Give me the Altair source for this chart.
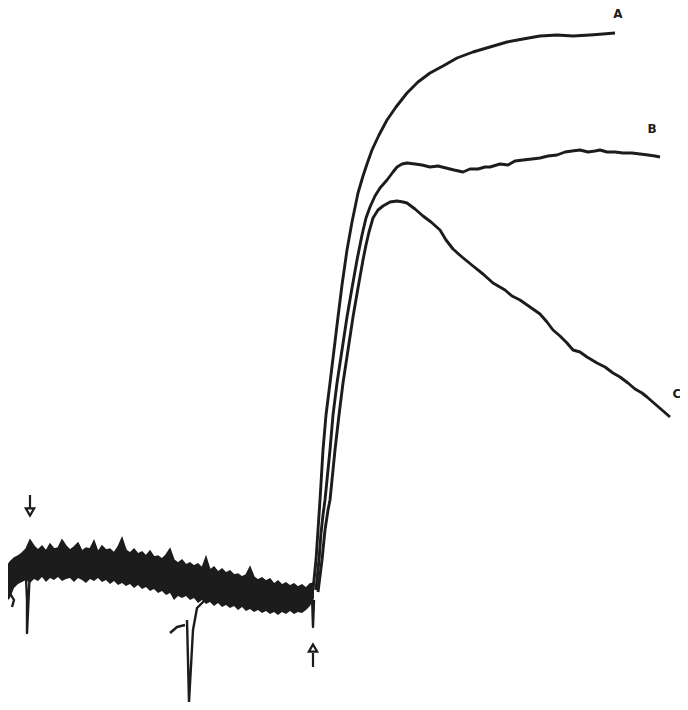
import altair as alt
import pandas as pd

# ---- traces (image pixel coordinates, y downward) ----
A_x = [313, 316, 318, 320, 323, 326, 330, 334, 338, 342, 347, 352, 358, 363, 367, 372, 379, 387, 396, 407,
       418, 430, 443, 457, 473, 490, 507, 523, 540, 557, 573, 590, 603, 615]
A_y = [590, 560, 530, 500, 450, 415, 383, 350, 317, 285, 250, 222, 193, 176, 164, 150, 135, 120, 107, 93,
       82, 73, 66, 58, 52, 47, 42, 39, 36, 35, 36, 35, 34, 33]

B_x = [316, 319, 321, 323, 325, 328, 330, 333, 337, 342, 347, 352, 357, 362, 366, 370, 375, 380, 387, 393,
       397, 402, 407, 415, 422, 430, 438, 446, 454, 463, 470, 478, 485, 490, 500, 508, 515, 523, 532, 540,
       548, 557, 565, 572, 580, 588, 595, 600, 607, 615, 623, 632, 640, 648, 655, 660]
B_y = [590, 560, 533, 515, 500, 470, 450, 415, 383, 350, 317, 288, 260, 235, 218, 207, 196, 188, 180, 172,
       167, 164, 163, 164, 165, 167, 166, 168, 170, 172, 169, 169, 167, 167, 164, 165, 161, 160, 159, 158,
       156, 155, 152, 151, 150, 152, 151, 150, 152, 152, 153, 153, 154, 155, 156, 157]

C_x = [318, 322, 325, 328, 330, 333, 335, 339, 343, 348, 353, 358, 363, 366, 369, 373, 378, 383, 390, 397,
       403, 407, 415, 423, 431, 440, 446, 453, 462, 473, 483, 493, 505, 512, 520, 530, 540, 547, 553, 560,
       567, 573, 580, 587, 597, 605, 613, 620, 628, 635, 642, 647, 655, 662, 670]
C_y = [592, 560, 530, 510, 500, 470, 450, 415, 383, 350, 317, 288, 260, 245, 232, 218, 210, 206, 202, 201,
       202, 203, 209, 216, 222, 230, 240, 249, 257, 266, 274, 283, 290, 296, 300, 307, 314, 322, 330, 336,
       343, 350, 352, 357, 363, 367, 373, 377, 383, 389, 393, 397, 404, 410, 417]

# noisy baseline band (top and bottom edges), every 4 px
band_x = [6, 10, 14, 18, 22, 26, 30, 34, 38, 42, 46, 50, 54, 58, 62, 66, 70, 74, 78, 82,
          86, 90, 94, 98, 102, 106, 110, 114, 118, 122, 126, 130, 134, 138, 142, 146, 150, 154, 158, 162,
          166, 170, 174, 178, 182, 186, 190, 194, 198, 202, 206, 210, 214, 218, 222, 226, 230, 234, 238, 242,
          246, 250, 254, 258, 262, 266, 270, 274, 278, 282, 286, 290, 294, 298, 302, 306, 310, 314]
band_top = [568, 562, 558, 556, 553, 549, 540, 546, 550, 546, 551, 544, 549, 548, 540, 546, 550, 547, 543, 551,
            548, 549, 541, 552, 546, 550, 549, 553, 547, 538, 550, 553, 549, 554, 552, 556, 551, 557, 556, 559,
            555, 549, 560, 563, 560, 565, 563, 566, 564, 568, 557, 570, 567, 572, 569, 573, 571, 575, 574, 577,
            575, 567, 577, 580, 578, 581, 579, 584, 581, 585, 583, 586, 584, 587, 585, 588, 584, 583]
band_bot = [602, 598, 588, 584, 582, 580, 583, 579, 581, 577, 582, 578, 580, 577, 581, 579, 578, 582, 578, 580,
            583, 579, 581, 578, 582, 580, 584, 581, 585, 583, 586, 584, 588, 585, 589, 587, 591, 589, 593, 591,
            595, 593, 600, 596, 598, 596, 600, 598, 603, 600, 604, 602, 606, 603, 607, 605, 608, 606, 610, 607,
            611, 609, 612, 610, 613, 611, 614, 612, 615, 612, 614, 611, 614, 612, 613, 610, 606, 598]

# artefacts: stimulus spikes and the start squiggle
S_x = [8, 12, 16, 10, 8, 14, 12]
S_y = [570, 563, 568, 580, 590, 600, 607]
K1_x = [25, 27, 27, 29, 31]
K1_y = [555, 600, 633, 590, 548]
K2a_x = [170, 177, 185]
K2a_y = [633, 627, 625]
K2_x = [187, 189, 193, 197, 205, 213]
K2_y = [620, 702, 630, 608, 600, 598]
K3_x = [312, 313, 314]
K3_y = [595, 627, 600]

labels = ["A", "B", "C"]
label_x = [618, 652, 677]
label_y = [14, 129, 394]

arrow_x = [30, 313]
arrow_shaft_top = [495, 653]
arrow_shaft_bot = [508, 667]
arrow_head_y = [512, 648]
arrow_shape = ["triangle-down", "triangle-up"]

INK = "#1c1c1c"

def series(name, xs, ys):
    return pd.DataFrame({"x": xs, "y": ys, "s": name, "i": range(len(xs))})

lines_df = pd.concat([
    series("A", A_x, A_y), series("B", B_x, B_y), series("C", C_x, C_y),
])
art_df = pd.concat([
    series("S", S_x, S_y), series("K1", K1_x, K1_y), series("K2a", K2a_x, K2a_y),
    series("K2", K2_x, K2_y), series("K3", K3_x, K3_y),
])
band_df = pd.DataFrame({"x": band_x, "top": band_top, "bot": band_bot})
lab_df = pd.DataFrame({"t": labels, "x": label_x, "y": label_y})
arr_df = pd.DataFrame({"x": arrow_x, "y1": arrow_shaft_top, "y2": arrow_shaft_bot,
                       "hy": arrow_head_y, "shape": arrow_shape})

YS = alt.Scale(domain=[8, 702], nice=False, zero=False, reverse=True)
X = alt.X("x:Q", scale=alt.Scale(domain=[8, 680], nice=False, zero=False), axis=None)
Y = alt.Y("y:Q", scale=YS, axis=None)

band = alt.Chart(band_df).mark_area(color=INK, interpolate="linear", opacity=1).encode(
    x=X, y=alt.Y("top:Q", scale=YS, axis=None), y2="bot:Q")

band_edge = alt.Chart(band_df).mark_line(color=INK, strokeWidth=1.5).encode(
    x=X, y=alt.Y("top:Q", scale=YS, axis=None))

traces = alt.Chart(lines_df).mark_line(color=INK, strokeWidth=2.9, strokeJoin="round").encode(
    x=X, y=Y, detail="s:N", order="i:Q")

arts = alt.Chart(art_df).mark_line(color=INK, strokeWidth=2.4, strokeJoin="round").encode(
    x=X, y=Y, detail="s:N", order="i:Q")

shafts = alt.Chart(arr_df).mark_rule(color=INK, strokeWidth=2.2).encode(
    x=X, y=alt.Y("y1:Q", scale=YS, axis=None), y2="y2:Q")

heads = alt.Chart(arr_df).mark_point(color=INK, filled=False, strokeWidth=2.2, size=70, opacity=1).encode(
    x=X, y=alt.Y("hy:Q", scale=YS, axis=None),
    shape=alt.Shape("shape:N", scale=None))

texts = alt.Chart(lab_df).mark_text(color=INK, font="DejaVu Sans", fontWeight="bold", fontSize=12).encode(
    x=X, y=Y, text="t:N")

chart = alt.layer(band, band_edge, traces, arts, shafts, heads, texts).properties(
    width=672, height=694, padding=0, autosize="none"
).configure_view(stroke=None)

chart.save("out.html", embed_options={"renderer": "svg", "actions": False})
